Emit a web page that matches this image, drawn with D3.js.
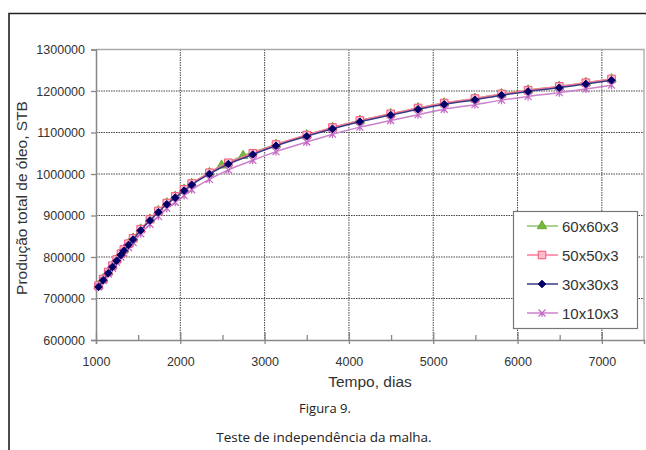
<!DOCTYPE html>
<html>
<head>
<meta charset="utf-8">
<script src="https://cdn.jsdelivr.net/npm/d3@7"></script>
<style>
  body { margin: 0; background: #fff; }
  svg text { font-family: "Liberation Sans", Arial, sans-serif; fill: #333; }
  .caption { font-family: "Open Sans", "Noto Sans", sans-serif !important; fill: #222 !important; }
</style>
</head>
<body>
<div id="chart"></div>
<script>
// time steps (days)
var times = [1030, 1085, 1145, 1195, 1245, 1295, 1330, 1385, 1440, 1530, 1640, 1740, 1840, 1940, 2045, 2135,
  2345, 2570, 2860, 3135, 3500, 3805, 4130, 4495, 4820, 5130, 5495, 5810, 6125, 6495, 6810, 7115];
var timesG = [1030, 1085, 1145, 1195, 1245, 1295, 1330, 1385, 1440, 1530, 1640, 1740, 1840, 1940, 2045, 2135,
  2345, 2490, 2745, 3135, 3500, 3805, 4130, 4495, 4820, 5130, 5495, 5810, 6125, 6495, 6810, 7115];

// cumulative oil production, STB
var s60 = [731000, 747000, 764000, 779000, 794000, 808000, 818000, 832000, 845000, 867000, 891000, 911000, 930000, 946000, 963000, 977000,
  1003000, 1021000, 1044000, 1071000, 1094000, 1112000, 1129000, 1145000, 1159000, 1171000, 1182000, 1193000, 1202000, 1211000, 1220000, 1229000];
var s50 = [731000, 747000, 764000, 779000, 794000, 808000, 818000, 832000, 845000, 867000, 891000, 911000, 930000, 946000, 963000, 977000,
  1003000, 1027000, 1050000, 1071000, 1094000, 1112000, 1129000, 1145000, 1159000, 1171000, 1182000, 1193000, 1202000, 1211000, 1220000, 1229000];
var s30 = [728000, 744000, 761000, 776000, 791000, 805000, 815000, 829000, 842000, 864000, 888000, 908000, 927000, 943000, 960000, 974000,
  1000000, 1024000, 1047000, 1068000, 1091000, 1109000, 1126000, 1142000, 1156000, 1168000, 1179000, 1190000, 1199000, 1208000, 1217000, 1226000];
var s10 = [728000, 743000, 759000, 773000, 787000, 800000, 810000, 823000, 835000, 856000, 879000, 898000, 917000, 932000, 948000, 962000,
  987000, 1010000, 1033000, 1054000, 1077000, 1096000, 1113000, 1129000, 1143000, 1156000, 1167000, 1178000, 1187000, 1196000, 1205000, 1214000];

var seriesNames = ["60x60x3", "50x50x3", "30x30x3", "10x10x3"];
var xTicks = [1000, 2000, 3000, 4000, 5000, 6000, 7000];
var xMinor = [1500, 2500, 3500, 4500, 5500, 6500];
var yTicks = [600000, 700000, 800000, 900000, 1000000, 1100000, 1200000, 1300000];

var W = 646, H = 450;
var plot = {left: 96, right: 644, top: 49.5, bottom: 340};

var svg = d3.select("#chart").append("svg")
  .attr("width", W)
  .attr("height", H);

// outer frame (top and left only)
svg.append("path")
  .attr("d", "M9,450 L9,13.5 L646,13.5")
  .attr("fill", "none")
  .attr("stroke", "#222")
  .attr("stroke-width", 1.6);

var x = d3.scaleLinear().domain([1000, 7500]).range([plot.left, plot.right]);
var y = d3.scaleLinear().domain([600000, 1300000]).range([plot.bottom, plot.top]);

// grid
svg.append("g").selectAll("line.vg")
  .data(xTicks.slice(1))
  .enter().append("line")
  .attr("x1", function(d) { return x(d); })
  .attr("x2", function(d) { return x(d); })
  .attr("y1", plot.top).attr("y2", plot.bottom)
  .attr("stroke", "#444").attr("stroke-width", 1)
  .attr("stroke-dasharray", "1.5,1");

svg.append("g").selectAll("line.hg")
  .data(yTicks.slice(1, -1))
  .enter().append("line")
  .attr("x1", plot.left).attr("x2", plot.right)
  .attr("y1", function(d) { return y(d); })
  .attr("y2", function(d) { return y(d); })
  .attr("stroke", "#444").attr("stroke-width", 1)
  .attr("stroke-dasharray", "1.5,1");

// plot border top/right
svg.append("path")
  .attr("d", "M" + plot.left + "," + plot.top + " L" + plot.right + "," + plot.top + " L" + plot.right + "," + plot.bottom)
  .attr("fill", "none").attr("stroke", "#aaa").attr("stroke-width", 1.3);

// axes
var yAxis = svg.append("g")
  .attr("transform", "translate(" + plot.left + ",0)")
  .call(d3.axisLeft(y).tickValues(yTicks).tickSize(5).tickPadding(6).tickFormat(d3.format("d")));
yAxis.select(".domain").attr("stroke", "#888").attr("stroke-width", 1.5);
yAxis.selectAll(".tick line").attr("stroke", "#888").attr("stroke-width", 1.3);
yAxis.selectAll("text").style("font-size", "12.5px").attr("fill", "#333");

var xAxis = svg.append("g")
  .attr("transform", "translate(0," + plot.bottom + ")")
  .call(d3.axisBottom(x).tickValues(xTicks).tickSize(4).tickPadding(13).tickFormat(d3.format("d")));
xAxis.select(".domain").attr("stroke", "#888").attr("stroke-width", 1.5);
xAxis.selectAll(".tick line").attr("stroke", "#888").attr("stroke-width", 1.3);
xAxis.selectAll("text").style("font-size", "12.5px").attr("fill", "#333");

// upward part of major ticks and minor ticks
var up = svg.append("g")
  .attr("transform", "translate(0," + plot.bottom + ")")
  .call(d3.axisBottom(x).tickValues(xTicks).tickSize(-8).tickFormat(""));
up.select(".domain").remove();
up.selectAll(".tick line").attr("stroke", "#888").attr("stroke-width", 1.3);
var minor = svg.append("g")
  .attr("transform", "translate(0," + plot.bottom + ")")
  .call(d3.axisBottom(x).tickValues(xMinor).tickSize(-5).tickFormat(""));
minor.select(".domain").remove();
minor.selectAll(".tick line").attr("stroke", "#888").attr("stroke-width", 1.3);

// axis titles
svg.append("text")
  .attr("x", 370)
  .attr("y", 387)
  .attr("text-anchor", "middle")
  .style("font-size", "15.5px")
  .attr("fill", "#333")
  .text("Tempo, dias");

svg.append("text")
  .attr("transform", "translate(27,198) rotate(-90)")
  .attr("text-anchor", "middle")
  .style("font-size", "15.5px")
  .attr("fill", "#333")
  .text("Produção total de óleo, STB");

// series
var xMark = "M-3.5,-3.5L3.5,3.5M-3.5,3.5L3.5,-3.5M0,0L0,4";
var diamond = "M0,-3.8L3.8,0L0,3.8L-3.8,0Z";
var series = [
  {name: seriesNames[0], t: timesG, v: s60, line: "#8cc66a", fill: "#7ab83c", stroke: "#6aa830",
    sym: d3.symbol().type(d3.symbolTriangle).size(38)()},
  {name: seriesNames[1], t: times, v: s50, line: "#ff7898", fill: "#ffbccb", stroke: "#f2557c",
    sym: d3.symbol().type(d3.symbolSquare).size(58)()},
  {name: seriesNames[3], t: times, v: s10, line: "#cc80cc", fill: "none", stroke: "#c266c2",
    sym: xMark},
  {name: seriesNames[2], t: times, v: s30, line: "#3a3a88", fill: "#000068", stroke: "#000068",
    sym: diamond}
];

var line = d3.line()
  .x(function(d) { return x(d[0]); })
  .y(function(d) { return y(d[1]); })
  .curve(d3.curveMonotoneX);

series.forEach(function(s) {
  var pts = s.t.map(function(t, i) { return [t, s.v[i]]; });
  var g = svg.append("g");
  g.append("path")
    .datum(pts)
    .attr("d", line)
    .attr("fill", "none")
    .attr("stroke", s.line)
    .attr("stroke-width", 1.5);
  g.selectAll("path.m")
    .data(pts)
    .enter().append("path")
    .attr("class", "m")
    .attr("d", s.sym)
    .attr("transform", function(d) { return "translate(" + x(d[0]) + "," + y(d[1]) + ")"; })
    .attr("fill", s.fill)
    .attr("stroke", s.stroke)
    .attr("stroke-width", s.fill === "none" ? 1.2 : 1);
});

// legend
var legend = svg.append("g");
legend.append("rect")
  .attr("x", 513.5).attr("y", 211.5)
  .attr("width", 124).attr("height", 117)
  .attr("fill", "#fff")
  .attr("stroke", "#777").attr("stroke-width", 1.2);

var legendOrder = [series[0], series[1], series[3], series[2]];
var ly = d3.scalePoint().domain(seriesNames).range([226, 313]);

legendOrder.forEach(function(s) {
  var yy = ly(s.name);
  legend.append("line")
    .attr("x1", 527).attr("x2", 558)
    .attr("y1", yy).attr("y2", yy)
    .attr("stroke", s.line).attr("stroke-width", 1.5);
  legend.append("path")
    .attr("d", s.sym)
    .attr("transform", "translate(542," + yy + ")")
    .attr("fill", s.fill)
    .attr("stroke", s.stroke)
    .attr("stroke-width", s.fill === "none" ? 1.2 : 1);
  legend.append("text")
    .attr("x", 562).attr("y", yy + 5.5)
    .style("font-size", "15px")
    .attr("fill", "#333")
    .text(s.name);
});

// caption
svg.append("text")
  .attr("class", "caption")
  .attr("x", 325).attr("y", 413)
  .attr("text-anchor", "middle")
  .style("font-size", "13px")
  .text("Figura 9.");

svg.append("text")
  .attr("class", "caption")
  .attr("x", 324).attr("y", 442)
  .attr("text-anchor", "middle")
  .style("font-size", "13.5px")
  .text("Teste de independência da malha.");
</script>
</body>
</html>
